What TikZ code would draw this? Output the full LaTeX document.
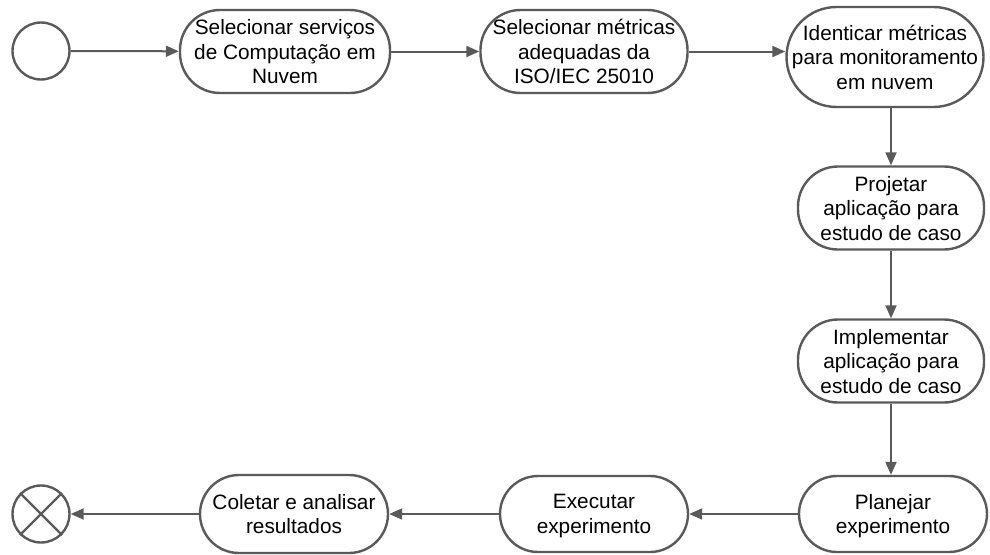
\documentclass[tikz,border=0pt]{standalone}
\usepackage{fontspec}
\setmainfont{Liberation Sans}
\usetikzlibrary{arrows.meta}
\definecolor{edge}{HTML}{5A5A5A}
\begin{document}
\begin{tikzpicture}[x=1pt,y=-1pt,
  activity/.style={draw=edge,line width=2.4pt,fill=white,rounded corners=40pt,
    minimum width=#1,minimum height=83pt,align=center,inner sep=0pt,text depth=0pt,
    font=\fontsize{20.8}{24.5}\selectfont},
  activity/.default=210pt,
  flow/.style={draw=edge,line width=2pt,-{Triangle[length=13pt,width=11pt]}},
  terminal/.style={circle,draw=edge,line width=2.4pt,minimum size=57pt,inner sep=0pt}]
\useasboundingbox (0,0) rectangle (990,554);

\node[terminal] (start) at (41,51) {};
\node[activity] (a1) at (285,51.5) {Selecionar serviços\\de Computação em\\Nuvem};
\node[activity=207pt] (a2) at (584,51.5) {Selecionar métricas\\adequadas da\\ISO/IEC 25010};
\node[activity=197pt,minimum height=100pt,rounded corners=50pt] (a3) at (885,57) {Identicar métricas\\para monitoramento\\em nuvem};
\node[activity=186pt] (a4) at (891,208) {Projetar\\aplicação para\\estudo de caso};
\node[activity=186pt] (a5) at (891,361) {Implementar\\aplicação para\\estudo de caso};
\node[activity=188pt,minimum height=76pt,rounded corners=38pt] (a6) at (893,514) {Planejar\\experimento};
\node[activity=188pt,minimum height=76pt,rounded corners=38pt] (a7) at (594,514) {Executar\\experimento};
\node[activity=188pt,minimum height=78pt,rounded corners=39pt] (a8) at (294,514) {Coletar e analisar\\resultados};
\node[terminal] (stop) at (41,514) {};
\draw[edge,line width=2.4pt] (stop.45) -- (stop.225) (stop.135) -- (stop.315);

\draw[flow] (start) -- (a1);
\draw[flow] (a1) -- (a2);
\draw[flow] (a2) -- (a3.west |- a2);
\draw[flow] (a3.south -| a4.north) -- (a4);
\draw[flow] (a4) -- (a5);
\draw[flow] (a5.south) -- (a6.north -| a5.south);
\draw[flow] (a6) -- (a7);
\draw[flow] (a7) -- (a8);
\draw[flow] (a8) -- (stop);
\end{tikzpicture}
\end{document}
